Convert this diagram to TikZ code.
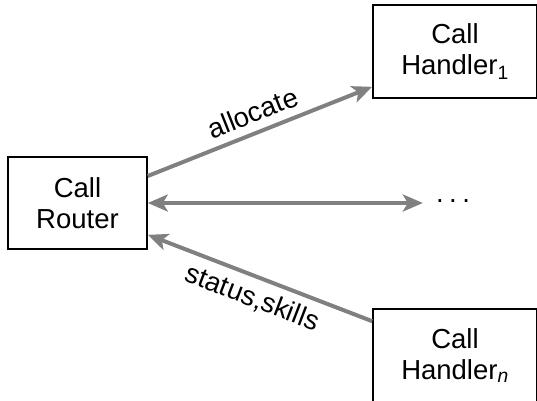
\documentclass[tikz,border=0pt]{standalone}
\usepackage{fontspec}
\setmainfont{Liberation Sans}
\usetikzlibrary{arrows.meta}
\definecolor{linkgray}{RGB}{128,128,128}

\begin{document}
\begin{tikzpicture}[
	x=1pt, y=-1pt,
	every node/.style={font=\fontsize{27.5}{31}\selectfont},
	box/.style={draw, line width=1.6pt, align=center, minimum width=139pt, minimum height=92pt},
	handler/.style={box, minimum width=164pt, minimum height=93pt},
	arrow/.style={draw=linkgray, line width=4pt, -{Stealth[length=20pt, width=17pt, inset=5pt]}},
	darrow/.style={arrow, {Stealth[length=20pt, width=17pt, inset=5pt]}-{Stealth[length=20pt, width=17pt, inset=5pt]}},
	msg/.style={sloped, inner sep=8pt}
]
\useasboundingbox (0,0) rectangle (537,400);
\clip (0,0) rectangle (537,400);

% router and handlers
\node[box] (router) at (77.5,203) {Call\\Router};
\node[handler] (handler1) at (455,51.5) {Call\\Handler\textsubscript{1}};
\node[handler] (handlern) at (455,355.5) {Call\\Handler\textsubscript{\textit{n}}};
\node[inner xsep=13pt, inner ysep=0pt] (dots) at (453,201) {.\hspace{5.5pt}.\hspace{5.5pt}.};

% messages
\path ([yshift=27pt]router.east) edge[arrow] node[above, msg] {allocate} ([yshift=12pt]handler1.south west);
\draw[darrow] (router.east) -- (dots.west |- router.east);
\path ([yshift=-13pt]handlern.north west) edge[arrow] node[below, msg] {status,skills} ([yshift=15pt]router.south east);
\end{tikzpicture}
\end{document}
